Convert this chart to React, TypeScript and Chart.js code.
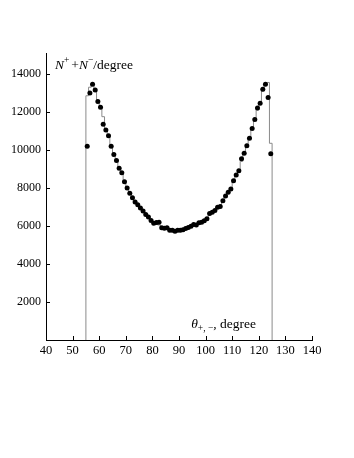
import React, { useEffect, useRef } from "react";
import { Chart, registerables } from "chart.js";

Chart.register(...registerables);

// Measured points: angle (bin centre, degrees) and N+ + N- per degree
const measuredAngles = [
  55.5, 56.5, 57.5, 58.5, 59.5, 60.5, 61.5, 62.5, 63.5, 64.5,
  65.5, 66.5, 67.5, 68.5, 69.5, 70.5, 71.5, 72.5, 73.5, 74.5,
  75.5, 76.5, 77.5, 78.5, 79.5, 80.5, 81.5, 82.5, 83.5, 84.5,
  85.5, 86.5, 87.5, 88.5, 89.5, 90.5, 91.5, 92.5, 93.5, 94.5,
  95.5, 96.5, 97.5, 98.5, 99.5, 100.5, 101.5, 102.5, 103.5, 104.5,
  105.5, 106.5, 107.5, 108.5, 109.5, 110.5, 111.5, 112.5, 113.5, 114.5,
  115.5, 116.5, 117.5, 118.5, 119.5, 120.5, 121.5, 122.5, 123.5, 124.5,
];
const measuredCounts = [
  10200, 13000, 13450, 13150, 12550, 12250, 11350, 11050, 10750, 10200,
  9760, 9440, 9040, 8800, 8320, 8000, 7720, 7480, 7260, 7120,
  6940, 6790, 6600, 6470, 6290, 6140, 6180, 6200, 5900, 5880,
  5910, 5770, 5770, 5720, 5770, 5770, 5800, 5860, 5920, 5990,
  6080, 6050, 6170, 6200, 6270, 6380, 6660, 6720, 6810, 6980,
  7030, 7330, 7580, 7770, 7950, 8380, 8680, 8900, 9540, 9820,
  10220, 10620, 11130, 11600, 12200, 12450, 13190, 13460, 12760, 9800,
];

// Simulated histogram: lower bin edges (1 degree wide) and contents
const histLowEdges = [
  55, 56, 57, 58, 59, 60, 61, 62, 63, 64,
  65, 66, 67, 68, 69, 70, 71, 72, 73, 74,
  75, 76, 77, 78, 79, 80, 81, 82, 83, 84,
  85, 86, 87, 88, 89, 90, 91, 92, 93, 94,
  95, 96, 97, 98, 99, 100, 101, 102, 103, 104,
  105, 106, 107, 108, 109, 110, 111, 112, 113, 114,
  115, 116, 117, 118, 119, 120, 121, 122, 123, 124,
];
const histBinWidth = 1;
const histCounts = [
  12850, 13300, 13400, 13100, 12600, 12200, 11750, 11100, 10700, 10250,
  9800, 9450, 9100, 8750, 8400, 8050, 7780, 7520, 7300, 7120,
  6950, 6800, 6620, 6470, 6320, 6200, 6120, 6050, 5960, 5900,
  5860, 5800, 5770, 5740, 5740, 5760, 5790, 5840, 5900, 5980,
  6040, 6090, 6150, 6210, 6290, 6400, 6580, 6700, 6830, 6960,
  7080, 7300, 7550, 7750, 7970, 8300, 8620, 8920, 9400, 9800,
  10200, 10600, 11100, 11550, 12100, 12500, 13100, 13450, 13550, 10350,
];

const xTickValues = [40, 50, 60, 70, 80, 90, 100, 110, 120, 130, 140];
const yTickValues = [2000, 4000, 6000, 8000, 10000, 12000, 14000];

const X_MIN = 40;
const X_MAX = 140;
const Y_MIN = 0;
const Y_MAX = 15100;

const SERIF = "'Liberation Serif', 'Times New Roman', serif";

const annotationsPlugin = {
  id: "annotations",
  afterDraw(chart: any) {
    const { ctx, chartArea, scales } = chart;
    const xs = scales.x;
    const ys = scales.y;
    ctx.save();
    // inward tick marks
    ctx.strokeStyle = "#000";
    ctx.lineWidth = 1;
    ctx.beginPath();
    xTickValues.forEach((v) => {
      const px = Math.round(xs.getPixelForValue(v)) + 0.5;
      ctx.moveTo(px, chartArea.bottom);
      ctx.lineTo(px, chartArea.bottom - 4);
    });
    yTickValues.forEach((v) => {
      const py = Math.round(ys.getPixelForValue(v)) + 0.5;
      ctx.moveTo(chartArea.left, py);
      ctx.lineTo(chartArea.left + 4, py);
    });
    ctx.stroke();

    ctx.fillStyle = "#000";
    ctx.textBaseline = "alphabetic";
    ctx.textAlign = "left";

    // y-axis title: N+ + N- / degree
    let x = chartArea.left + 9;
    const yb = chartArea.top + 16;
    const put = (t: string, font: string, dy: number) => {
      ctx.font = font;
      ctx.fillText(t, x, yb + dy);
      x += ctx.measureText(t).width;
    };
    put("N", `italic 13.5px ${SERIF}`, 0);
    put("+", `9.5px ${SERIF}`, -6);
    x += 2;
    put("+", `13.5px ${SERIF}`, 0);
    put("N", `italic 13.5px ${SERIF}`, 0);
    put("\u2212", `9.5px ${SERIF}`, -6);
    put("/degree", `13.5px ${SERIF}`, 0);

    // x-axis title: theta_{+,-}, degree
    x = xs.getPixelForValue(94.6);
    const yb2 = chartArea.bottom - 12;
    const put2 = (t: string, font: string, dy: number) => {
      ctx.font = font;
      ctx.fillText(t, x, yb2 + dy);
      x += ctx.measureText(t).width;
    };
    put2("\u03b8", `italic 13.5px ${SERIF}`, 0);
    put2("+, \u2212", `9.5px ${SERIF}`, 3);
    put2(", degree", `13.5px ${SERIF}`, 0);
    ctx.restore();
  },
};

export default function App() {
  const ref = useRef<HTMLCanvasElement | null>(null);

  useEffect(() => {
    if (!ref.current) return;
    const histPoints: { x: number; y: number }[] = [{ x: histLowEdges[0], y: 0 }];
    histLowEdges.forEach((e, i) => histPoints.push({ x: e + histBinWidth, y: histCounts[i] }));
    histPoints.push({ x: histLowEdges[histLowEdges.length - 1] + histBinWidth, y: 0 });

    const points = measuredAngles.map((a, i) => ({ x: a, y: measuredCounts[i] }));

    const chart = new Chart(ref.current, {
      type: "scatter",
      data: {
        datasets: [
          {
            type: "scatter",
            data: points,
            backgroundColor: "#000",
            borderWidth: 0,
            pointRadius: 2.5,
          } as any,
          {
            type: "line",
            data: histPoints,
            stepped: "after",
            borderColor: "#8a8a8a",
            borderWidth: 1,
            pointRadius: 0,
            fill: false,
          } as any,
        ],
      },
      options: {
        responsive: false,
        animation: false,
        devicePixelRatio: 1,
        layout: { padding: { top: 53, right: 42, bottom: 88, left: 0 } },
        plugins: { legend: { display: false }, tooltip: { enabled: false } },
        scales: {
          x: {
            type: "linear",
            min: X_MIN,
            max: X_MAX,
            afterBuildTicks: (s: any) => {
              s.ticks = xTickValues.map((v) => ({ value: v }));
            },
            afterFit: (s: any) => {
              s.height = 30;
            },
            ticks: {
              color: "#000",
              font: { family: SERIF, size: 12.5 },
              padding: 3,
              maxRotation: 0,
              callback: (v: any) => String(v),
            },
            grid: { display: true, drawOnChartArea: false, drawTicks: false },
            border: { display: true, color: "#000", width: 1 },
          },
          y: {
            type: "linear",
            min: Y_MIN,
            max: Y_MAX,
            afterBuildTicks: (s: any) => {
              s.ticks = yTickValues.map((v) => ({ value: v }));
            },
            afterFit: (s: any) => {
              s.width = 46;
            },
            ticks: {
              color: "#000",
              font: { family: SERIF, size: 12 },
              padding: 5,
              callback: (v: any) => String(v),
            },
            grid: { display: true, drawOnChartArea: false, drawTicks: false },
            border: { display: true, color: "#000", width: 1 },
          },
        },
      },
      plugins: [annotationsPlugin],
    });
    return () => chart.destroy();
  }, []);

  return (
    <div style={{ position: "absolute", left: 0, top: 0, width: 354, height: 458, background: "#fff" }}>
      <canvas ref={ref} width={354} height={458} style={{ display: "block" }} />
    </div>
  );
}
